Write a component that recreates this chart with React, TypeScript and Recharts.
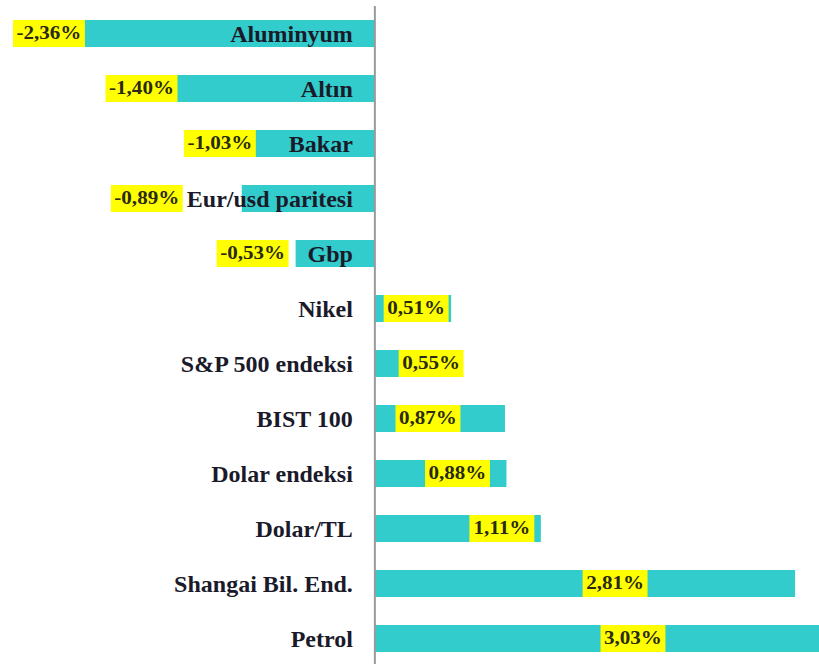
import React from 'react';
import { BarChart, Bar, XAxis, YAxis, ReferenceLine } from 'recharts';

const categories = [
  'Aluminyum',
  'Altın',
  'Bakar',
  'Eur/usd paritesi',
  'Gbp',
  'Nikel',
  'S&P 500 endeksi',
  'BIST 100',
  'Dolar endeksi',
  'Dolar/TL',
  'Shangai Bil. End.',
  'Petrol',
];
const changes = [-2.36, -1.4, -1.03, -0.89, -0.53, 0.51, 0.55, 0.87, 0.88, 1.11, 2.81, 3.03];
const valueLabels = ['-2,36%', '-1,40%', '-1,03%', '-0,89%', '-0,53%', '0,51%', '0,55%', '0,87%', '0,88%', '1,11%', '2,81%', '3,03%'];

const data = categories.map((name, i) => ({ name, value: changes[i], label: valueLabels[i] }));

// layout: horizontal nudge (px) of each value label's centre from its bar end
const LABEL_SHIFT = [27, -24, -1, -95, -43, -35, -26, -77, -49, -39, -180, -195];

const FONT = '"Liberation Serif", "Times New Roman", serif';
const VALUE_STRETCH = 1.17;
const VALUE_SIZE = 18;
const NAME_SIZE = 24;

const charW = (c: string) => {
  if (c === '%') return 1000;
  if (c === ',' || c === '.') return 250;
  if (c === '-') return 333;
  return 500;
};
const textWidth = (s: string, size: number) =>
  (s.split('').reduce((a, c) => a + charW(c), 0) * size * VALUE_STRETCH) / 1000;

const BarShape = (props: any) => {
  const { x, y, width, height, payload } = props;
  const idx = categories.indexOf(payload.name);
  const v = payload.value as number;
  const left = Math.min(x, x + width);
  const right = Math.max(x, x + width);
  const zero = v < 0 ? right : left;
  const end = v < 0 ? left : right;
  const cy = y + height / 2;
  const lbl = payload.label as string;
  const bw = textWidth(lbl, VALUE_SIZE) + 7;
  const cx = end + LABEL_SHIFT[idx];
  return (
    <g>
      <rect x={left} y={y} width={right - left} height={height} fill="#33CCCC" />
      <rect x={cx - bw / 2} y={y} width={bw} height={height} fill="#FFFF00" />
      <text
        transform={`translate(${cx},${cy}) scale(${VALUE_STRETCH},1)`}
        textAnchor="middle"
        dominantBaseline="central"
        fontFamily={FONT}
        fontWeight="bold"
        fontSize={VALUE_SIZE}
        fill="#2a2a14"
      >
        {lbl}
      </text>
      <text
        x={zero - 22}
        y={cy}
        textAnchor="end"
        dominantBaseline="central"
        fontFamily={FONT}
        fontWeight="bold"
        fontSize={NAME_SIZE}
        fill="#1a1a2a"
      >
        {payload.name}
      </text>
    </g>
  );
};

export default function App() {
  return (
    <div
      style={{
        position: 'absolute',
        left: 0,
        top: 0,
        width: 819,
        height: 664,
        overflow: 'hidden',
        background: '#ffffff',
      }}
    >
      <BarChart
        width={819}
        height={668}
        data={data}
        layout="vertical"
        margin={{ top: 6, right: 0, bottom: 2, left: 10 }}
      >
        <XAxis type="number" domain={[-2.44, 2.97]} allowDataOverflow hide />
        <YAxis type="category" dataKey="name" hide />
        <Bar dataKey="value" barSize={27} isAnimationActive={false} shape={BarShape} />
        <ReferenceLine x={0} stroke="#9a9a9a" strokeWidth={2} />
      </BarChart>
    </div>
  );
}
